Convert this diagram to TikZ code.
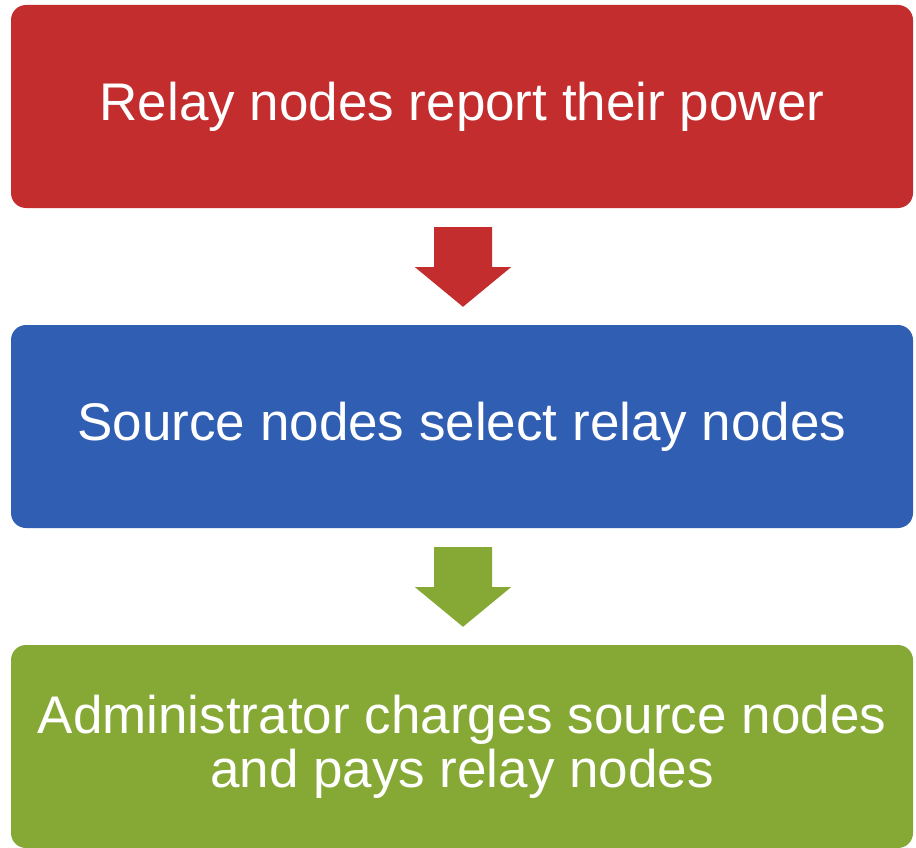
\documentclass[tikz,border=0pt]{standalone}
\usepackage{fontspec}
\setmainfont{Liberation Sans}
\usetikzlibrary{calc}
\definecolor{stepred}{RGB}{195,45,46}
\definecolor{stepblue}{RGB}{47,94,179}
\definecolor{stepgreen}{RGB}{134,169,54}
\tikzset{
  stagebox/.style={rounded corners=15pt, minimum width=902pt, minimum height=203pt,
    inner sep=0pt, align=center, text=white, font=\fontsize{53}{54}\selectfont},
}
\begin{document}
\begin{tikzpicture}[x=1pt,y=-1pt]
\useasboundingbox (0,0) rectangle (916,848);
\node[stagebox, fill=stepred]   (report) at (462,106.5) {Relay nodes report their power};
\node[stagebox, fill=stepblue]  (select) at (462,426.5) {Source nodes select relay nodes};
\node[stagebox, fill=stepgreen] (charge) at (462,746.5) {Administrator charges source nodes\\and pays relay nodes};
% block arrows between consecutive stages
\foreach \a/\b/\c in {report/select/stepred, select/charge/stepgreen}{
  \fill[\c] ($(\a.south)+(-28,19)$) -- ($(\a.south)+(30,19)$) -- ($(\a.south)+(30,59)$)
    -- ($(\a.south)+(49,59)$) -- ($(\b.north)+(1,-18)$) -- ($(\a.south)+(-47,59)$)
    -- ($(\a.south)+(-28,59)$) -- cycle;
}
\end{tikzpicture}
\end{document}
